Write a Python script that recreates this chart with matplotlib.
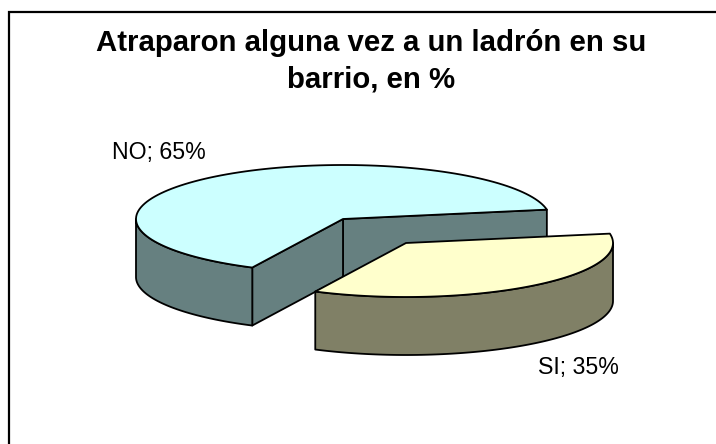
import numpy as np
import matplotlib
matplotlib.use('Agg')
import matplotlib.pyplot as plt
from matplotlib.patches import Polygon

TITLE = 'Atraparon alguna vez a un ladrón en su\nbarrio, en %'
labels = ['NO', 'SI']
values = [65, 35]
top_colors = ['#CCFFFF', '#FFFFCC']
side_colors = ['#668080', '#808066']

# pie geometry, pixels
RX = 207
RY = 54
DEPTH = 58
START = 10  # deg
centers = [(343, 219), (406, 243)]
label_pos = [(159, 152), (578.5, 367)]

LW = 1.3

plt.rcParams['font.family'] = ['Liberation Sans', 'DejaVu Sans']

fig = plt.figure(figsize=(7.16, 4.44), dpi=100)
ax = fig.add_axes([0, 0, 1, 1])
ax.set_xlim(0, 716)
ax.set_ylim(444, 0)
ax.axis('off')


def rim(center, a0, a1):
    t = np.radians(np.linspace(a0, a1, 120))
    return np.column_stack((center[0] + RX*np.cos(t), center[1] - RY*np.sin(t)))


def poly(pts, color, z):
    ax.add_patch(Polygon(pts, closed=True, facecolor=color, edgecolor='black',
                         linewidth=LW, joinstyle='round', zorder=z))


def wall(center, a0, a1, color, z):
    # outer wall of a slice, only the part facing the viewer
    a0, a1 = max(a0, 180), min(a1, 360)
    if a1 <= a0:
        return
    edge = rim(center, a0, a1)
    poly(np.vstack((edge, (edge + [0, DEPTH])[::-1])), color, z)


def cut_face(center, angle, color, z):
    p = rim(center, angle, angle)[0]
    c = np.array(center)
    poly([c, p, p + [0, DEPTH], c + [0, DEPTH]], color, z)


angles = START + np.cumsum([0] + values) * 360 / sum(values)

# NO slice goes first, the pulled out SI slice sits in front of it
for i in range(len(values)):
    a0, a1 = angles[i], angles[i + 1]
    c = centers[i]
    z = 2 + i*2
    if i == 0:
        cut_face(c, a0, side_colors[i], z)
        cut_face(c, a1, side_colors[i], z)
    wall(c, a0, a1, side_colors[i], z)
    poly(np.vstack(([c], rim(c, a0, a1))), top_colors[i], z + 1)

for name, val, pos in zip(labels, values, label_pos):
    ax.text(pos[0], pos[1], f'{name}; {val}%', fontsize=16.7, ha='center',
            va='center', color='black', zorder=10)

ax.text(371, 61, TITLE, fontsize=21.2, fontweight='bold', ha='center',
        va='center', linespacing=1.4, color='black', zorder=10)

# chart frame, cropped at right and bottom
ax.plot([9, 9, 716], [444, 12.5, 12.5], color='black', linewidth=1.6,
        solid_joinstyle='miter', zorder=1)

fig.savefig('out.png', dpi=100, facecolor='white')
